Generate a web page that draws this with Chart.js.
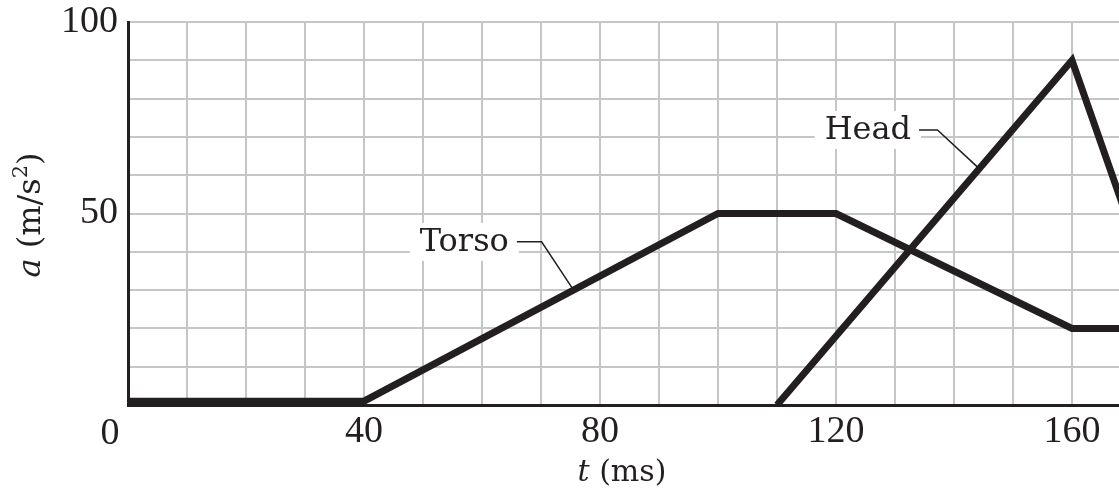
<!DOCTYPE html>
<html>
<head>
<meta charset="utf-8">
<script src="https://cdn.jsdelivr.net/npm/chart.js@4"></script>
<style>
  html, body { margin: 0; padding: 0; background: #fff; overflow: hidden; }
  #wrap { position: relative; width: 1131px; height: 488px; }
</style>
</head>
<body>
<div id="wrap"><canvas id="accelChart"></canvas></div>
<script>
// values (t in ms, a in m/s^2)
var torsoTimes = [0, 40, 100, 120, 160, 170];
var torsoAccel = [1, 1, 50, 50, 20, 20];
var headTimes = [110, 160, 170];
var headAccel = [0, 90, 46];
var xTickLabels = [0, 40, 80, 120, 160];
var yTickLabels = [0, 50, 100];

var INK = '#231f20';
var GRID = '#c5c6c8';

function toPoints(xs, ys) {
    return xs.map(function (x, i) { return { x: x, y: ys[i] }; });
}

// label callouts, placed in data units
var callouts = [
    { text: 'Torso', at: [57.0, 42.6], elbow: [70.1, 42.6], end: [75.3, 30.5] },
    { text: 'Head', at: [125.4, 71.8], elbow: [137.2, 71.8], end: [144.0, 62.1] }
];

var calloutPlugin = {
    id: 'callouts',
    beforeDatasetsDraw: function (chart) {
        var ctx = chart.ctx, xs = chart.scales.x, ys = chart.scales.y;
        ctx.save();
        ctx.font = '32px "DejaVu Serif"';
        ctx.textBaseline = 'middle';
        ctx.textAlign = 'center';
        callouts.forEach(function (c) {
            var px = xs.getPixelForValue(c.at[0]);
            var py = ys.getPixelForValue(c.at[1]);
            var w = ctx.measureText(c.text).width;
            ctx.fillStyle = '#fff';
            ctx.fillRect(px - w / 2 - 10, py - 19, w + 20, 38);
            ctx.fillStyle = INK;
            ctx.fillText(c.text, px, py + 1);
            ctx.strokeStyle = INK;
            ctx.lineWidth = 1.5;
            ctx.beginPath();
            ctx.moveTo(px + w / 2 + 8, ys.getPixelForValue(c.elbow[1]));
            ctx.lineTo(xs.getPixelForValue(c.elbow[0]), ys.getPixelForValue(c.elbow[1]));
            ctx.lineTo(xs.getPixelForValue(c.end[0]), ys.getPixelForValue(c.end[1]));
            ctx.stroke();
        });
        ctx.restore();
    },
    afterDraw: function (chart) {
        var ctx = chart.ctx, area = chart.chartArea;
        ctx.save();
        ctx.fillStyle = INK;
        ctx.textBaseline = 'alphabetic';

        // shared "0" at the corner
        ctx.font = '38px "Liberation Serif"';
        ctx.textAlign = 'center';
        ctx.fillText(String(xTickLabels[0]), area.left - 18, area.bottom + 39);

        // x title: t (ms)
        var big = '30px "DejaVu Serif"';
        var ital = 'italic 30px "DejaVu Serif"';
        ctx.textAlign = 'left';
        ctx.font = ital;
        var w1 = ctx.measureText('t').width;
        ctx.font = big;
        var w2 = ctx.measureText(' (ms)').width;
        var cx = 622, by = 481;
        var sx = cx - (w1 + w2) / 2;
        ctx.font = ital;
        ctx.fillText('t', sx, by);
        ctx.font = big;
        ctx.fillText(' (ms)', sx + w1, by);

        // y title: a (m/s^2)
        var yfont = '32px "DejaVu Serif"';
        var yital = 'italic 32px "DejaVu Serif"';
        var sup = '21px "DejaVu Serif"';
        ctx.font = yital; var a1 = ctx.measureText('a').width;
        ctx.font = yfont; var a2 = ctx.measureText(' (m/s').width;
        ctx.font = sup; var a3 = ctx.measureText('2').width;
        ctx.font = yfont; var a4 = ctx.measureText(')').width;
        var total = a1 + a2 + a3 + a4;
        ctx.translate(40, 215);
        ctx.rotate(-Math.PI / 2);
        var x0 = -total / 2;
        ctx.font = yital; ctx.fillText('a', x0, 0);
        ctx.font = yfont; ctx.fillText(' (m/s', x0 + a1, 0);
        ctx.font = sup; ctx.fillText('2', x0 + a1 + a2, -13);
        ctx.font = yfont; ctx.fillText(')', x0 + a1 + a2 + a3, 0);
        ctx.restore();
    }
};

var lineStyle = {
    borderColor: INK,
    borderWidth: 7,
    pointRadius: 0,
    fill: false,
    tension: 0,
    borderJoinStyle: 'miter',
    borderCapStyle: 'butt'
};

new Chart(document.getElementById('accelChart'), {
    type: 'line',
    data: {
        datasets: [
            Object.assign({ label: 'Torso', data: toPoints(torsoTimes, torsoAccel) }, lineStyle),
            Object.assign({ label: 'Head', data: toPoints(headTimes, headAccel) }, lineStyle)
        ]
    },
    options: {
        responsive: true,
        maintainAspectRatio: false,
        animation: false,
        layout: { padding: { top: 22, right: 0, left: 0, bottom: 0 } },
        plugins: {
            legend: { display: false },
            tooltip: { enabled: false }
        },
        scales: {
            x: {
                type: 'linear',
                min: 0,
                max: 170,
                afterFit: function (scale) {
                    scale.height = 83;
                    scale.paddingLeft = 0;
                    scale.paddingRight = 0;
                },
                border: { color: INK, width: 3 },
                grid: { color: GRID, lineWidth: 2, drawTicks: false },
                ticks: {
                    stepSize: 10,
                    padding: 8,
                    maxRotation: 0,
                    autoSkip: false,
                    color: INK,
                    font: { family: 'Liberation Serif', size: 38, lineHeight: 1 },
                    callback: function (v) {
                        return (v !== 0 && xTickLabels.indexOf(v) >= 0) ? String(v) : '';
                    }
                }
            },
            y: {
                min: 0,
                max: 100,
                afterFit: function (scale) {
                    scale.width = 128;
                    scale.paddingTop = 0;
                    scale.paddingBottom = 0;
                },
                border: { color: INK, width: 3 },
                grid: { color: GRID, lineWidth: 2, drawTicks: false },
                ticks: {
                    stepSize: 10,
                    padding: 10,
                    autoSkip: false,
                    color: INK,
                    font: { family: 'Liberation Serif', size: 38, lineHeight: 1 },
                    callback: function (v) {
                        return (v !== 0 && yTickLabels.indexOf(v) >= 0) ? String(v) : '';
                    }
                }
            }
        }
    },
    plugins: [calloutPlugin]
});
</script>
</body>
</html>
